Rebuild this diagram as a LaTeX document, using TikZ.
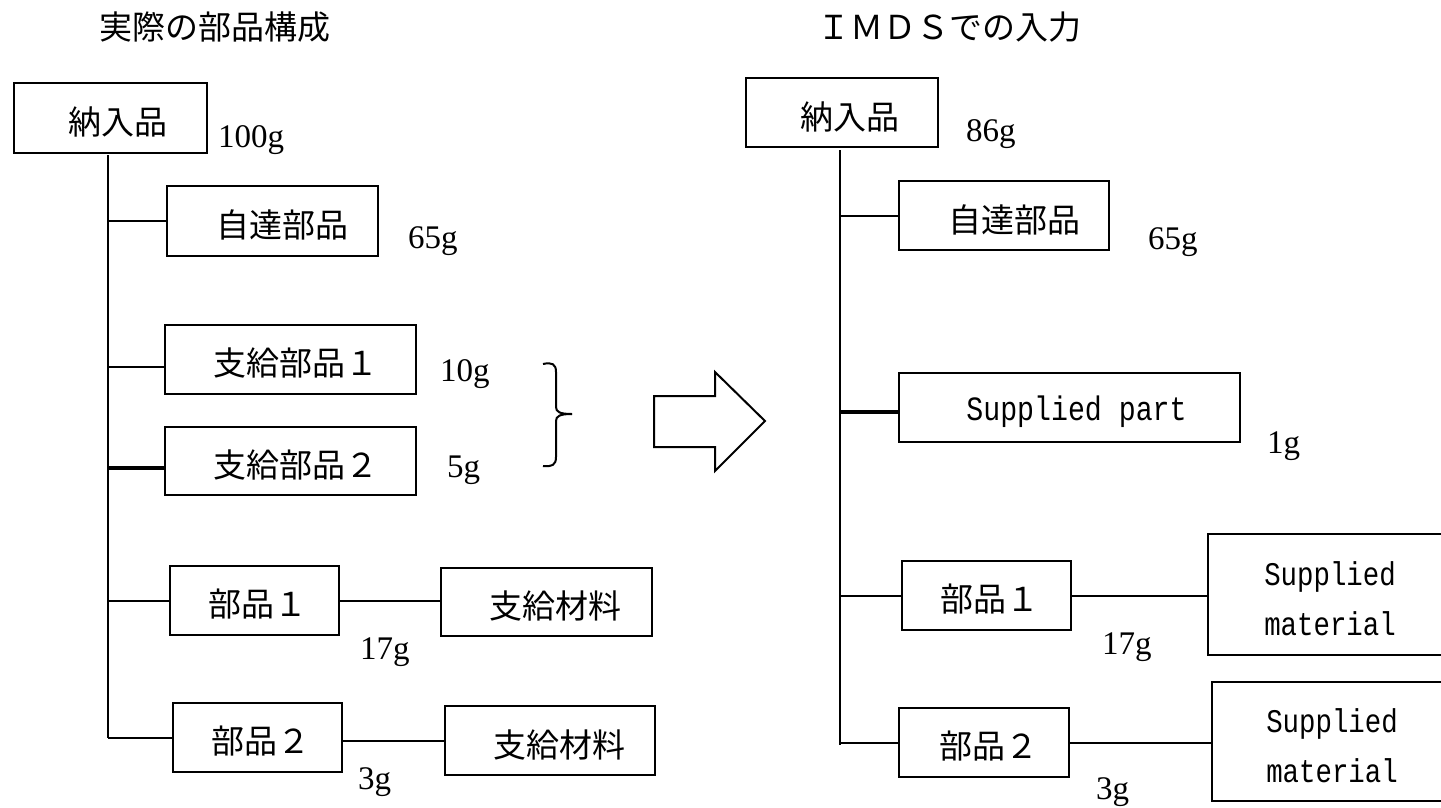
\documentclass[tikz,border=0pt]{standalone}
\usepackage{fontspec}
\setmainfont{Liberation Serif}
\newfontfamily\jp{Noto Sans CJK JP}
\newfontfamily\monoc[FakeStretch=0.83]{Liberation Mono}
\usetikzlibrary{calc}
\newcommand{\lowr}[1]{\raisebox{-4pt}[\height][\depth]{#1}}
\tikzset{
  box/.style={draw, line width=2pt, inner sep=0pt, outer sep=0pt, font=\jp\fontsize{33}{40}\selectfont},
  wt/.style={font=\fontsize{33}{40}\selectfont, inner sep=0pt, anchor=base west},
  conn/.style={line width=2pt},
  thickconn/.style={line width=3.5pt},
  ttl/.style={font=\jp\fontsize{33}{40}\selectfont, inner sep=0pt},
  en/.style={font=\monoc\fontsize{33}{50}\selectfont, align=center},
}
\begin{document}
\begin{tikzpicture}[x=1pt,y=-1pt]
\useasboundingbox (0,0) rectangle (1441,807);
\fill[white] (0,0) rectangle (1441,807);

% titles
\node[ttl] (tL) at (214.5,27) {実際の部品構成};
\node[ttl] (tR) at (949,27) {ＩＭＤＳでの入力};

% left tree
\node[box, minimum width=193pt, minimum height=70pt] (L0) at (110.5,118) {\hspace*{15pt}\lowr{納入品}};
\node[box, minimum width=211pt, minimum height=70pt] (L1) at (272.5,221) {\hspace*{19pt}\lowr{自達部品}};
\node[box, minimum width=251pt, minimum height=69pt] (L2) at (290.5,359.5) {\hspace*{10pt}\lowr{支給部品１}};
\node[box, minimum width=251pt, minimum height=68pt] (L3) at (290.5,461) {\hspace*{10pt}\lowr{支給部品２}};
\node[box, minimum width=169pt, minimum height=69pt] (L4) at (254.5,600.5) {\hspace*{7pt}\lowr{部品１}};
\node[box, minimum width=211pt, minimum height=68pt] (L5) at (546.5,602) {\hspace*{17pt}\lowr{支給材料}};
\node[box, minimum width=169pt, minimum height=69pt] (L6) at (257.5,737.5) {\hspace*{6pt}\lowr{部品２}};
\node[box, minimum width=210pt, minimum height=69pt] (L7) at (550,740.5) {\hspace*{18pt}\lowr{支給材料}};

\coordinate (Lt) at (108,155);
\coordinate (Lb) at (108,738);
\draw[conn] (Lt) -- (Lb);
\draw[conn] (Lb |- L1.west) -- (L1.west);
\draw[conn] ($(Lb |- L2.west)+(0,7)$) -- ($(L2.west)+(0,7)$);
\draw[thickconn] ($(Lb |- L3.west)+(0,7)$) -- ($(L3.west)+(0,7)$);
\draw[conn] (Lb |- L4.west) -- (L4.west);
\draw[conn] (Lb |- L6.west) -- (L6.west);
\draw[conn] (L4.east) -- (L4.east -| L5.west);
\draw[conn] (L7.west -| L6.east) -- (L7.west);

\node[wt] (wL0) at (218,147) {100g};
\node[wt] (wL1) at (408,248) {65g};
\node[wt] (wL2) at (440,381) {10g};
\node[wt] (wL3) at (447,477) {5g};
\node[wt] (wL4) at (360,659) {17g};
\node[wt] (wL6) at (358,789) {3g};

% brace
\draw[line width=2pt] (543,364) .. controls (552,362) and (556,364) .. (556,372) -- (556,407)
  .. controls (556,412) and (560,414) .. (572,414);
\draw[line width=2pt] (572,414) .. controls (560,414) and (556,416) .. (556,421) -- (556,457)
  .. controls (556,465) and (552,467) .. (543,466);

% big arrow
\draw[line width=2pt, line join=miter] (654,396) -- (715,396) -- (715,372) -- (765,421) -- (715,471) -- (715,447) -- (654,447) -- cycle;

% right tree
\node[box, minimum width=192pt, minimum height=69pt] (R0) at (842,112.5) {\hspace*{16pt}\lowr{納入品}};
\node[box, minimum width=210pt, minimum height=69pt] (R1) at (1004,215.5) {\hspace*{20pt}\lowr{自達部品}};
\node[box, minimum width=341pt, minimum height=69pt, font=\monoc\fontsize{34}{40}\selectfont] (R2) at (1069.5,407.5) {\hspace*{14pt}\lowr{Supplied part}};
\node[box, minimum width=169pt, minimum height=69pt] (R3) at (986.5,595.5) {\hspace*{7pt}\lowr{部品１}};
\node[box, minimum width=237pt, minimum height=121pt, en] (R4) at (1326.5,594.5) {\hspace*{7pt}\lowr{Supplied}\\\hspace*{7pt}\lowr{material}};
\node[box, minimum width=170pt, minimum height=69pt] (R5) at (984,742.5) {\hspace*{10pt}\lowr{部品２}};
\node[box, minimum width=233pt, minimum height=119pt, en] (R6) at (1328.5,741.5) {\hspace*{7pt}\lowr{Supplied}\\\hspace*{7pt}\lowr{material}};

\coordinate (Rt) at (840,150);
\coordinate (Rb) at (840,745);
\draw[conn] (Rt) -- (Rb);
\draw[conn] (Rb |- R1.west) -- (R1.west);
\draw[thickconn] ($(Rb |- R2.west)+(0,4.5)$) -- ($(R2.west)+(0,4.5)$);
\draw[conn] (Rb |- R3.west) -- (R3.west);
\draw[conn] (Rb |- R5.west) -- (R5.west);
\draw[conn] (R3.east) -- (R3.east -| R4.west);
\draw[conn] (R5.east) -- (R5.east -| R6.west);

\node[wt] (wR0) at (966,141) {86g};
\node[wt] (wR1) at (1148,249) {65g};
\node[wt] (wR2) at (1267,453) {1g};
\node[wt] (wR3) at (1102,654) {17g};
\node[wt] (wR5) at (1096,799) {3g};
\end{tikzpicture}
\end{document}
